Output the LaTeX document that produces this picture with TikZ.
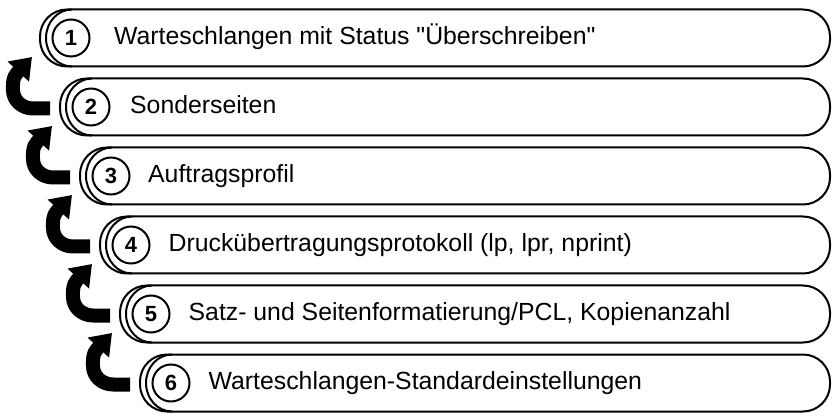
\documentclass[tikz,border=0pt]{standalone}
\usepackage{fontspec}
\setmainfont{Liberation Sans}
\usetikzlibrary{arrows.meta,positioning}

\begin{document}
\begin{tikzpicture}[x=1pt,y=1pt,
    pill/.style={draw, line width=2pt, rectangle, rounded corners=27pt,
      minimum height=57pt, anchor=east, inner sep=0pt, outer sep=0pt},
    num/.style={draw, line width=2pt, circle, minimum size=37pt, inner sep=0pt,
      font=\fontsize{22}{22}\selectfont\bfseries},
    rowtext/.style={anchor=base west, inner sep=0pt,
      font=\fontsize{24.8}{26}\selectfont},
    bigarrow/.style={line width=14pt, line join=round, -{Triangle[length=20pt,width=28pt]}}]
       \tikzstyle{innerarc}=[line width=2pt]

       \useasboundingbox (0,0) rectangle (837,415);

       % rows
       \node[pill, minimum width=790pt] (r1) at (830,377) {};
       \node[pill, minimum width=770pt] (r2) at (830,308) {};
       \node[pill, minimum width=750pt] (r3) at (830,239) {};
       \node[pill, minimum width=730pt] (r4) at (830,170) {};
       \node[pill, minimum width=710pt] (r5) at (830,101) {};
       \node[pill, minimum width=690pt] (r6) at (830,32) {};

       \draw[innerarc] ([xshift=32pt]r1.north west) arc[start angle=90, end angle=270, x radius=26pt, y radius=28.5pt];
       \draw[innerarc] ([xshift=32pt]r2.north west) arc[start angle=90, end angle=270, x radius=26pt, y radius=28.5pt];
       \draw[innerarc] ([xshift=32pt]r3.north west) arc[start angle=90, end angle=270, x radius=26pt, y radius=28.5pt];
       \draw[innerarc] ([xshift=32pt]r4.north west) arc[start angle=90, end angle=270, x radius=26pt, y radius=28.5pt];
       \draw[innerarc] ([xshift=32pt]r5.north west) arc[start angle=90, end angle=270, x radius=26pt, y radius=28.5pt];
       \draw[innerarc] ([xshift=32pt]r6.north west) arc[start angle=90, end angle=270, x radius=26pt, y radius=28.5pt];

       \node[num] (n1) at ([xshift=31pt]r1.west) {1};
       \node[num] (n2) at ([xshift=31pt]r2.west) {2};
       \node[num] (n3) at ([xshift=31pt]r3.west) {3};
       \node[num] (n4) at ([xshift=31pt]r4.west) {4};
       \node[num] (n5) at ([xshift=31pt]r5.west) {5};
       \node[num] (n6) at ([xshift=31pt]r6.west) {6};

       \node[rowtext] (t1) at ([xshift=23.5pt,yshift=0.8pt]n1.east |- n1.base) {Warteschlangen mit Status \textquotedbl Überschreiben\textquotedbl};
       \node[rowtext] (t2) at ([xshift=19.5pt,yshift=0.8pt]n2.east |- n2.base) {Sonderseiten};
       \node[rowtext] (t3) at ([xshift=17.5pt,yshift=0.8pt]n3.east |- n3.base) {Auftragsprofil};
       \node[rowtext] (t4) at ([xshift=18pt,yshift=0.8pt]n4.east |- n4.base) {Druckübertragungsprotokoll (lp, lpr, nprint)};
       \node[rowtext] (t5) at ([xshift=18pt,yshift=0.8pt]n5.east |- n5.base) {Satz- und Seitenformatierung/PCL, Kopienanzahl};
       \node[rowtext] (t6) at ([xshift=18pt,yshift=0.8pt]n6.east |- n6.base) {Warteschlangen-Standardeinstellungen};

       % arrows from each row up to the one before
       \draw[bigarrow] ([shift={(-10pt,-1.5pt)}]r2.west) -- ([shift={(-27pt,-1.5pt)}]r2.west)
         to[out=180,in=-90] ([shift={(-47pt,17pt)}]r2.west)
         to[out=90,in=228] ([shift={(-43pt,34pt)}]r2.west) -- ([shift={(-28pt,50pt)}]r2.west);
       \draw[bigarrow] ([shift={(-10pt,-1.5pt)}]r3.west) -- ([shift={(-27pt,-1.5pt)}]r3.west)
         to[out=180,in=-90] ([shift={(-47pt,17pt)}]r3.west)
         to[out=90,in=228] ([shift={(-43pt,34pt)}]r3.west) -- ([shift={(-28pt,50pt)}]r3.west);
       \draw[bigarrow] ([shift={(-10pt,-1.5pt)}]r4.west) -- ([shift={(-27pt,-1.5pt)}]r4.west)
         to[out=180,in=-90] ([shift={(-47pt,17pt)}]r4.west)
         to[out=90,in=228] ([shift={(-43pt,34pt)}]r4.west) -- ([shift={(-28pt,50pt)}]r4.west);
       \draw[bigarrow] ([shift={(-10pt,-1.5pt)}]r5.west) -- ([shift={(-27pt,-1.5pt)}]r5.west)
         to[out=180,in=-90] ([shift={(-47pt,17pt)}]r5.west)
         to[out=90,in=228] ([shift={(-43pt,34pt)}]r5.west) -- ([shift={(-28pt,50pt)}]r5.west);
       \draw[bigarrow] ([shift={(-10pt,-1.5pt)}]r6.west) -- ([shift={(-27pt,-1.5pt)}]r6.west)
         to[out=180,in=-90] ([shift={(-47pt,17pt)}]r6.west)
         to[out=90,in=228] ([shift={(-43pt,34pt)}]r6.west) -- ([shift={(-28pt,50pt)}]r6.west);
     \end{tikzpicture}
\end{document}
